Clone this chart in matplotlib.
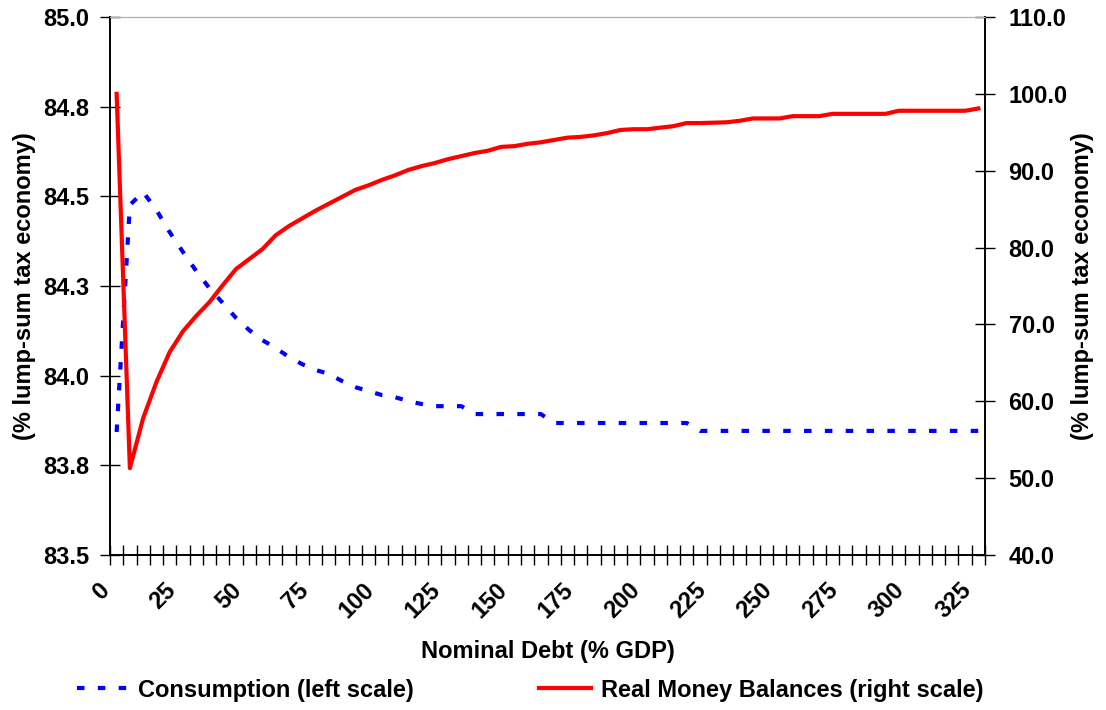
import matplotlib.pyplot as plt
import matplotlib.transforms as mtransforms
import numpy as np

plt.rcParams['font.family'] = ['Liberation Sans', 'DejaVu Sans']
plt.rcParams['font.weight'] = 'bold'

# nominal debt categories (% GDP)
debt = list(range(0, 330, 5))

consumption = [83.843, 84.476, 84.512, 84.462, 84.400, 84.345, 84.292, 84.244,
               84.203, 84.161, 84.127, 84.099, 84.077, 84.052, 84.032, 84.016,
               84.005, 83.985, 83.968, 83.957, 83.946, 83.940, 83.929, 83.921,
               83.915, 83.915, 83.915,
               83.893, 83.893, 83.893, 83.893, 83.893, 83.893,
               83.868, 83.868, 83.868, 83.868, 83.868, 83.868, 83.868, 83.868,
               83.868, 83.868, 83.868] + [83.846] * 22

money = [100.0, 51.3, 57.8, 62.5, 66.4, 69.1, 71.1, 72.9, 75.1, 77.2, 78.5,
         79.8, 81.6, 82.8, 83.8, 84.8, 85.7, 86.6, 87.5, 88.1, 88.8, 89.4,
         90.1, 90.6, 91.0, 91.5, 91.9, 92.3, 92.6, 93.1, 93.2, 93.5, 93.7,
         94.0, 94.3, 94.4, 94.6, 94.9, 95.3, 95.4, 95.4, 95.6, 95.8, 96.2,
         96.2, 96.25, 96.3, 96.5, 96.8, 96.8, 96.8, 97.1, 97.1, 97.1, 97.4,
         97.4, 97.4, 97.4, 97.4, 97.8, 97.8, 97.8, 97.8, 97.8, 97.8, 98.1]

left_ticks = [83.5, 83.75, 84.0, 84.25, 84.5, 84.75, 85.0]
left_labels = ['83.5', '83.8', '84.0', '84.3', '84.5', '84.8', '85.0']
right_ticks = [40, 50, 60, 70, 80, 90, 100, 110]

FS = 17

fig = plt.figure(figsize=(11.06, 7.10), dpi=100)
ax = fig.add_axes([110 / 1106, 1 - 555 / 710, 875 / 1106, 538 / 710])
ax2 = ax.twinx()

x = np.arange(len(debt))
l1, = ax.plot(x, consumption, color='#0000ff', lw=3, ls=(0, (1.8, 3.2)),
              label='Consumption (left scale)')
l2, = ax2.plot(x, money, color='#ff0000', lw=3,
               label='Real Money Balances (right scale)')

ax.set_xlim(-0.5, len(debt) - 0.5)
ax.set_ylim(83.5, 85.0)
ax2.set_ylim(40, 110)

ax.set_xticks(np.arange(-0.5, len(debt), 1), minor=True)
ax.set_xticks(x[::5])
ax.set_xticklabels([str(d) for d in debt[::5]], rotation=45, ha='right',
                   va='top', rotation_mode='anchor')
ax.tick_params(axis='x', which='major', length=0, pad=17, labelsize=FS)
ax.tick_params(axis='x', which='minor', direction='inout', length=14, width=1)
shift = mtransforms.ScaledTranslation(-19 / 100, 0, fig.dpi_scale_trans)
for lab in ax.get_xticklabels():
    lab.set_transform(lab.get_transform() + shift)

ax.set_yticks(left_ticks)
ax.set_yticklabels(left_labels)
ax.tick_params(axis='y', direction='inout', length=14, width=1, labelsize=FS, pad=8)
ax2.set_yticks(right_ticks)
ax2.set_yticklabels(['%.1f' % v for v in right_ticks])
ax2.tick_params(axis='y', direction='inout', length=14, width=1, labelsize=FS, pad=10)

for a in (ax, ax2):
    a.spines['top'].set_color('#b0b0b0')
    a.spines['left'].set_linewidth(1.2)
    a.spines['right'].set_linewidth(1.2)
    a.spines['bottom'].set_linewidth(1.2)

ax.set_ylabel('(% lump-sum tax economy)', fontsize=FS, fontweight='bold', labelpad=5)
ax2.set_ylabel('(% lump-sum tax economy)', fontsize=FS, fontweight='bold', labelpad=2)
ax.set_xlabel('Nominal Debt (% GDP)', fontsize=FS, fontweight='bold', labelpad=12)

fig.legend([l1, l2], [l1.get_label(), l2.get_label()], loc='center',
           bbox_to_anchor=(530 / 1106, 1 - 690 / 710), ncol=2, frameon=False,
           fontsize=FS, handlelength=2.2, handletextpad=0.4, columnspacing=5.3)

fig.savefig('out.png', dpi=100)
